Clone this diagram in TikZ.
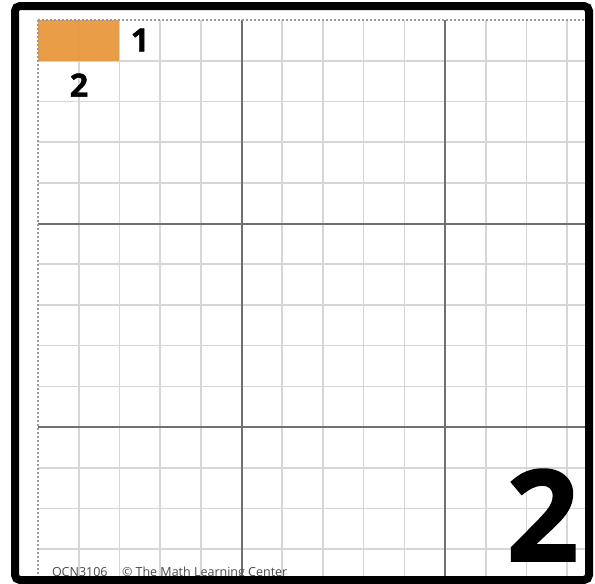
\documentclass[tikz,border=0pt]{standalone}
\usepackage{fontspec}
\setmainfont{Open Sans}
\newfontfamily\heavyfont{Open Sans}[BoldFeatures={FakeBold=1.2}]
\definecolor{tileorange}{HTML}{E8963A}
\definecolor{minorgray}{HTML}{D6D6D6}
\definecolor{majorgray}{HTML}{707070}
\definecolor{edgegray}{HTML}{9A9A9A}
\definecolor{footgray}{HTML}{4A4A4A}

\begin{document}
\begin{tikzpicture}[x=1pt, y=-1pt,
    minor/.style={minorgray, line width=1.6pt},
    major/.style={majorgray, line width=2pt},
    cutedge/.style={edgegray, line width=1.2pt, dash pattern=on 2pt off 2pt},
    every node/.style={inner sep=0pt, outer sep=0pt}]
    \useasboundingbox (0,0) rectangle (595,584);
    \fill[white] (0,0) rectangle (595,584);
    % grid paper
    \begin{scope}
        \clip (38,20) rectangle (586,578);
        \foreach \i in {1,...,13}
            \draw[minor] ({38+40.7*\i},20) -- ({38+40.7*\i},578);
        \foreach \j in {1,...,13}
            \draw[minor] (38,{20+40.7*\j}) -- (586,{20+40.7*\j});
        \foreach \i in {5,10} {
            \draw[major] ({38+40.7*\i},20) -- ({38+40.7*\i},578);
            \draw[major] (38,{20+40.7*\i}) -- (586,{20+40.7*\i});
        }
        \fill[tileorange, fill opacity=0.93] (38,20) rectangle (119.4,60.7);
    \end{scope}
    \draw[cutedge] (38,20) -- (586,20);
    \draw[cutedge] (38,20) -- (38,578);
    % labels
    \node (one) at (140,40) {\heavyfont\bfseries\fontsize{32}{32}\selectfont 1};
    \node (two) at (79,85) {\heavyfont\bfseries\fontsize{32}{32}\selectfont 2};
    \node[anchor=base east] (card) at (579,561) {\heavyfont\bfseries\fontsize{127}{127}\selectfont 2};
    \node[anchor=base west, footgray] (code) at (52,576) {\fontsize{12.5}{13}\selectfont QCN3106};
    \node[anchor=base west, footgray] (lmc) at (122,576) {\fontsize{12.5}{13}\selectfont © The Math Learning Center};
    % frame
    \draw[line width=8pt, rounded corners=5pt] (15,6) rectangle (589,580);
\end{tikzpicture}
\end{document}
